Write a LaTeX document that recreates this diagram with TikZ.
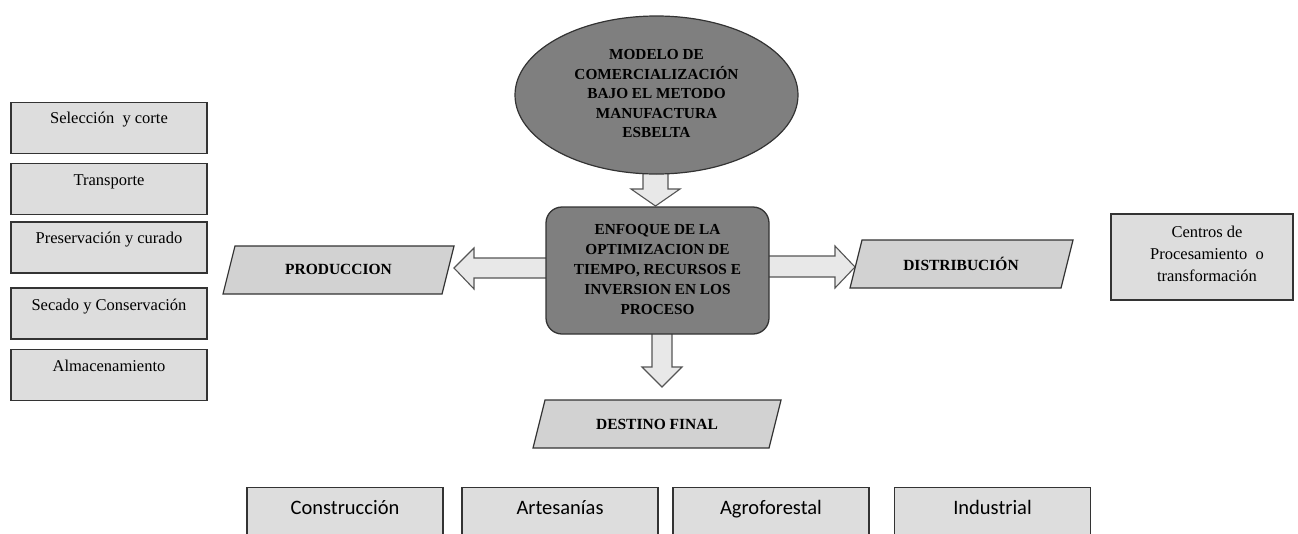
\documentclass[tikz,border=0pt]{standalone}
\usepackage{fontspec}
\setmainfont{Liberation Serif}
\newfontfamily\calib{Carlito}
\usetikzlibrary{shapes.geometric}
\definecolor{boxfill}{HTML}{DDDDDD}
\definecolor{parafill}{HTML}{D2D2D2}
\definecolor{darkfill}{HTML}{7F7F7F}
\definecolor{arrfill}{HTML}{E8E8E8}
\definecolor{arrline}{HTML}{555555}
\definecolor{edge}{HTML}{333333}
\tikzset{
  lbox/.style={draw=edge, line width=1.3pt, fill=boxfill, minimum width=196pt, minimum height=51pt, inner sep=0pt},
  ltext/.style={font=\fontsize{16.5}{19}\selectfont, anchor=base, inner sep=0pt},
  para/.style={draw=edge, line width=1.2pt, fill=parafill},
  ptext/.style={font=\fontsize{15.5}{18}\selectfont\bfseries, inner sep=0pt},
  blockarr/.style={draw=arrline, line width=1.1pt, fill=arrfill, line join=miter},
  bbox/.style={draw=edge, line width=1.1pt, fill=boxfill, minimum width=196pt, minimum height=60pt, inner sep=0pt, anchor=north},
  btext/.style={font=\calib\fontsize{20.5}{24}\selectfont, inner sep=0pt, anchor=base},
}
\begin{document}
\begin{tikzpicture}[x=1pt,y=-1pt]
\useasboundingbox (0,0) rectangle (1298,533);
\clip (0,0) rectangle (1298,533);

% block arrows (drawn first, beneath shapes)
\draw[blockarr] (643,165) -- (643,189) -- (631,189) -- (655.5,206) -- (680,189) -- (668,189) -- (668,165);
\draw[blockarr] (552,258) -- (474,258) -- (474,248) -- (454,268) -- (474,289) -- (474,278) -- (552,278);
\draw[blockarr] (763,256) -- (835,256) -- (835,246) -- (855,267) -- (835,288) -- (835,277) -- (763,277);
\draw[blockarr] (652,328) -- (652,367) -- (642,367) -- (662,387) -- (682,367) -- (672,367) -- (672,328);

% top ellipse
\node[ellipse, draw=edge, line width=1.2pt, fill=darkfill, minimum width=283pt, minimum height=158pt, inner sep=0pt] (model) at (656.5,95) {};
\node[font=\fontsize{15.3}{19.5}\selectfont\bfseries, align=center, inner sep=0pt] (modeltxt) at (656.5,94)
  {MODELO DE\\COMERCIALIZACIÓN\\BAJO EL METODO\\MANUFACTURA\\ESBELTA};

% main box
\node[draw=edge, line width=1.3pt, fill=darkfill, rounded corners=16pt, minimum width=223pt, minimum height=127pt, inner sep=0pt] (main) at (657.5,270.5) {};
\node[font=\fontsize{15.3}{20}\selectfont\bfseries, align=center, inner sep=0pt] (maintxt) at (657.5,270)
  {ENFOQUE DE LA\\OPTIMIZACION DE\\TIEMPO, RECURSOS E\\INVERSION EN LOS\\PROCESO};

% left boxes
\node[lbox] (s1) at (109,128) {};
\node[ltext] (t1) at ([yshift=-22pt]s1.north) {Selección\ \ y corte};
\node[lbox] (s2) at (109,189) {};
\node[ltext] (t2) at ([yshift=-23pt]s2.north) {Transporte};
\node[lbox] (s3) at (109,247.5) {};
\node[ltext] (t3) at ([yshift=-22pt]s3.north) {Preservación y curado};
\node[lbox] (s4) at (109,313.5) {};
\node[ltext] (t4) at ([yshift=-23pt]s4.north) {Secado y Conservación};
\node[lbox] (s5) at (109,375) {};
\node[ltext] (t5) at ([yshift=-23pt]s5.north) {Almacenamiento};

% parallelograms
\draw[para] (223,294) -- (235,246) -- (454,246) -- (442,294) -- cycle;
\node[ptext] (prod) at (338.5,269) {PRODUCCION};
\draw[para] (850,288) -- (862,240) -- (1073,240) -- (1061,288) -- cycle;
\node[ptext] (dist) at (961,264) {DISTRIBUCIÓN};
\draw[para] (533,448) -- (545,400) -- (781,400) -- (769,448) -- cycle;
\node[ptext] (dest) at (657,424) {DESTINO FINAL};

% right box
\node[draw=edge, line width=1.1pt, fill=boxfill, minimum width=182pt, minimum height=86pt, inner sep=0pt] (cent) at (1202,257) {};
\node[font=\fontsize{16.5}{22}\selectfont, align=center, inner sep=0pt] (centtxt) at (1207,254)
  {Centros de\\Procesamiento\ \ o\\transformación};

% bottom boxes
\node[bbox] (b1) at (345,487) {};
\node[btext] (bt1) at (345,514) {Construcción};
\node[bbox] (b2) at (560,487) {};
\node[btext] (bt2) at (560,514) {Artesanías};
\node[bbox] (b3) at (771,487) {};
\node[btext] (bt3) at (771,514) {Agroforestal};
\node[bbox] (b4) at (992.5,487) {};
\node[btext] (bt4) at (992.5,514) {Industrial};
\end{tikzpicture}
\end{document}
